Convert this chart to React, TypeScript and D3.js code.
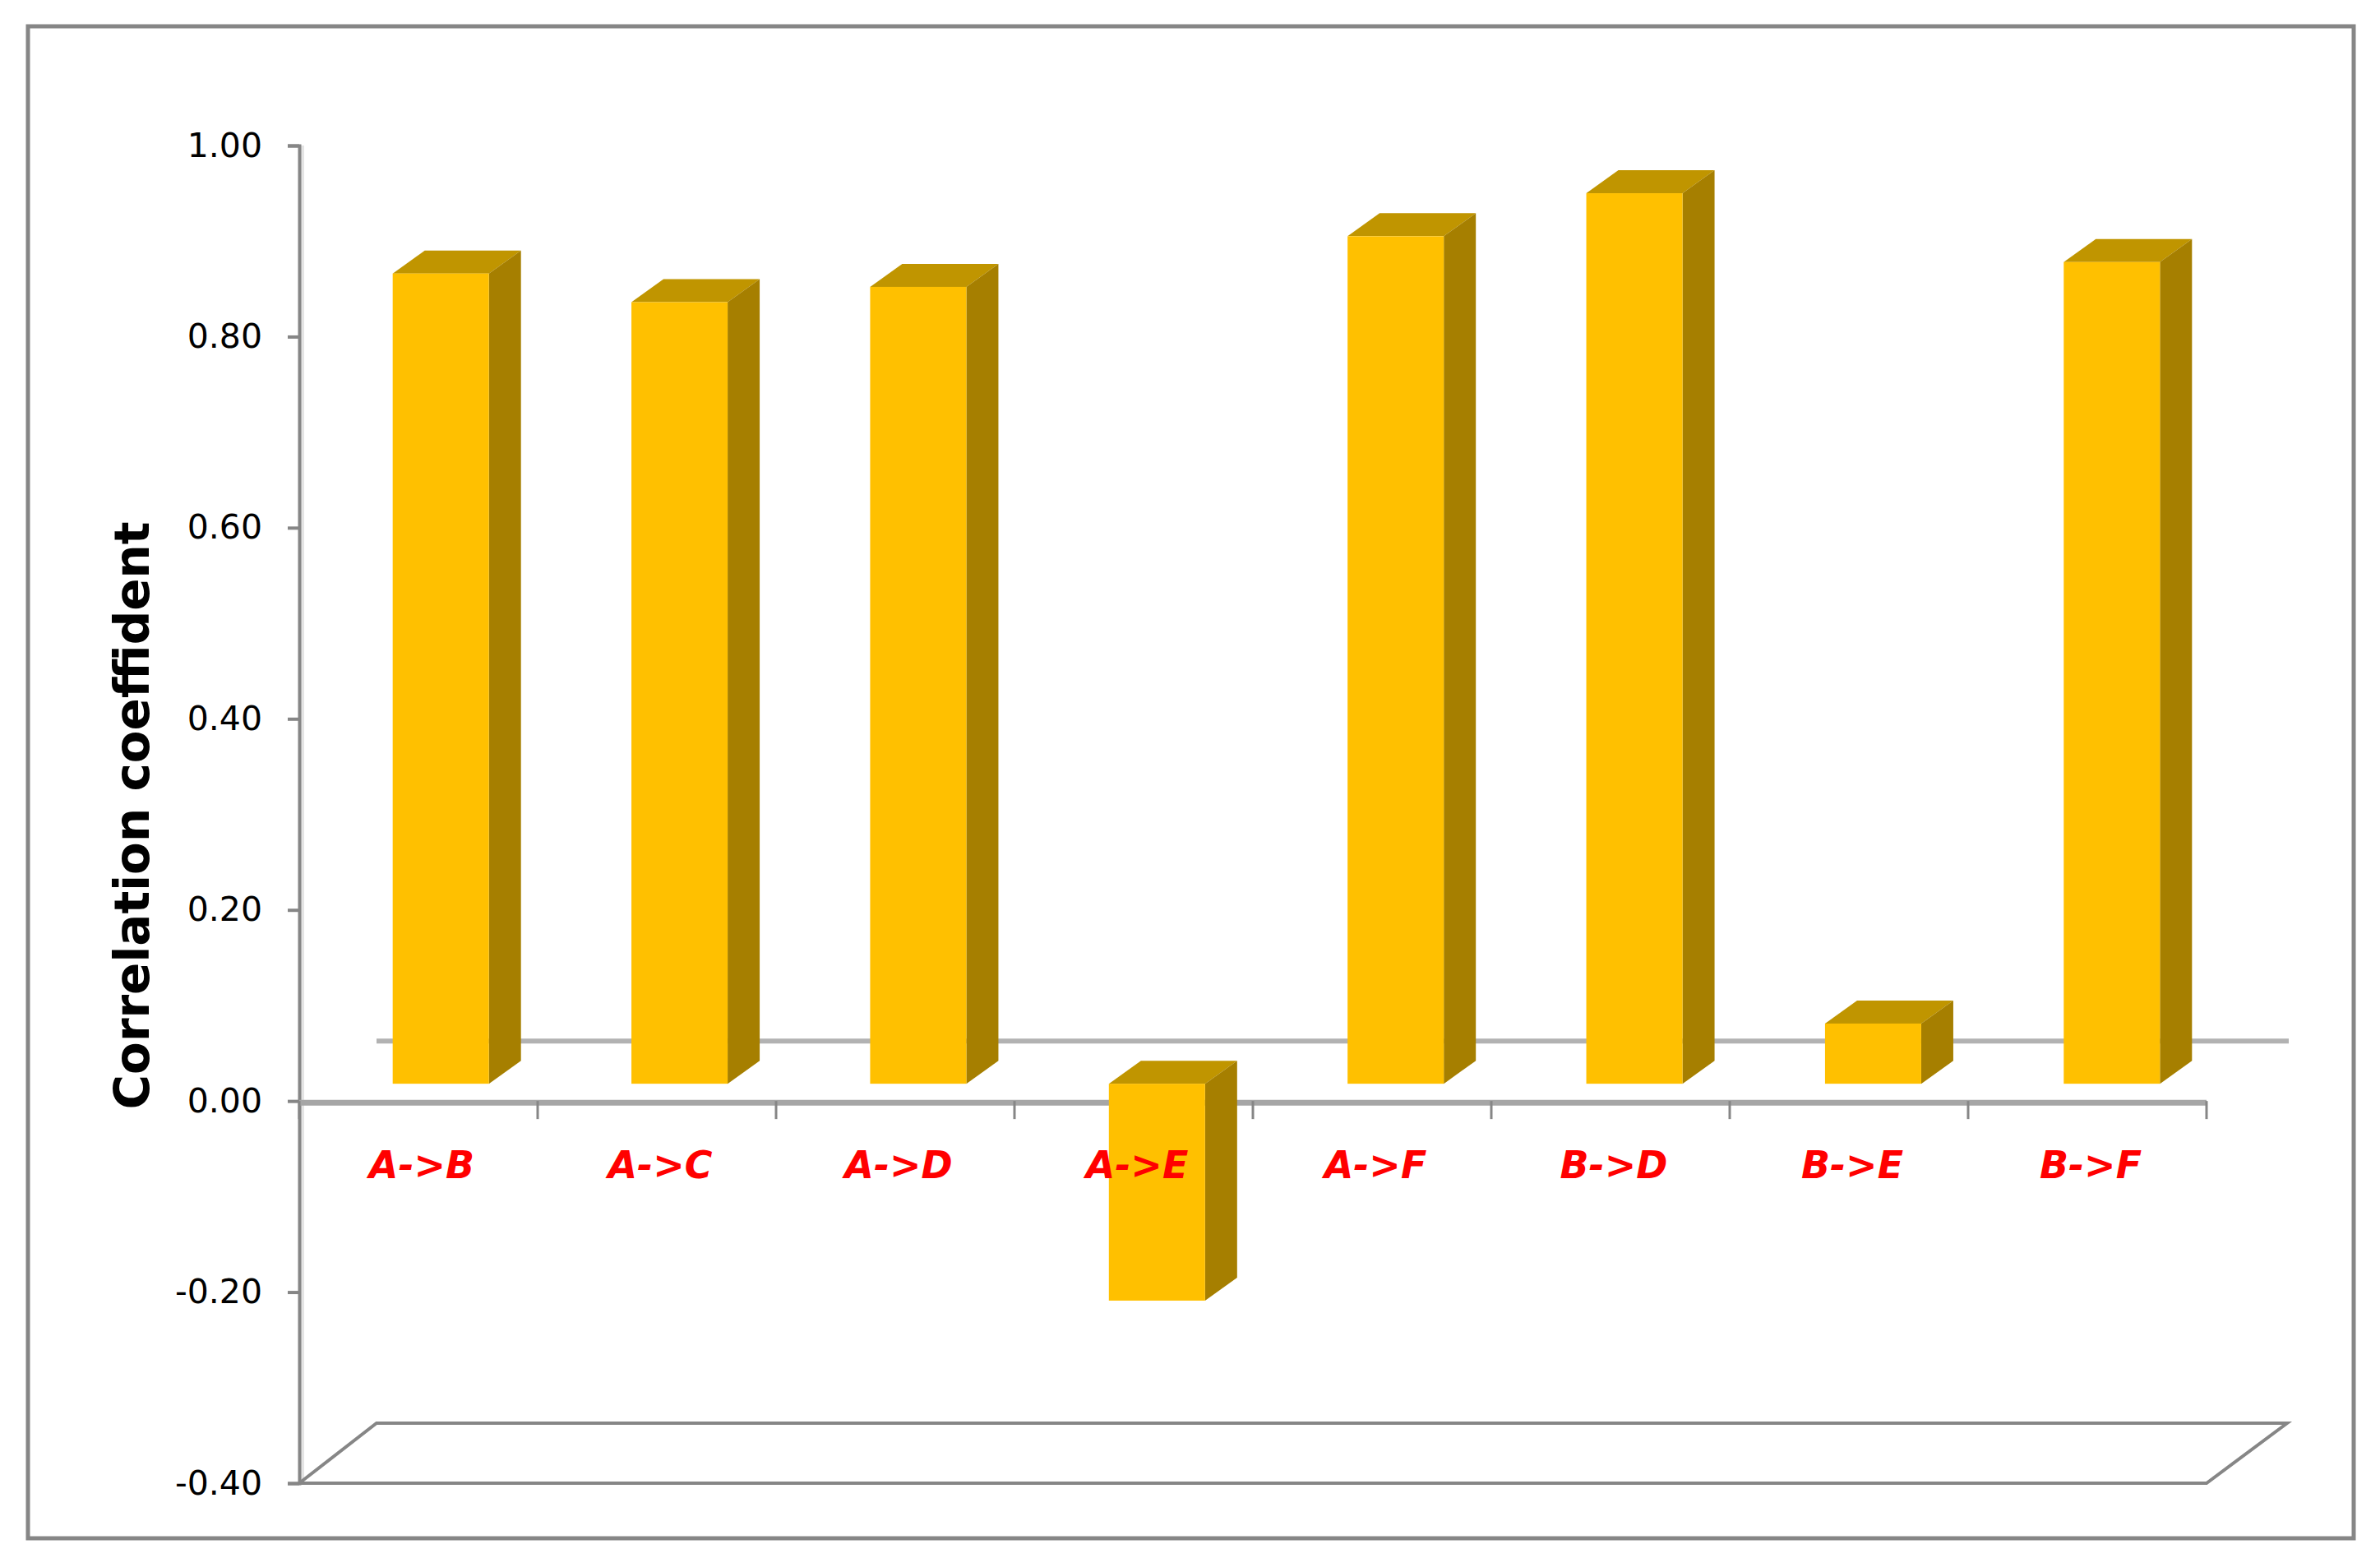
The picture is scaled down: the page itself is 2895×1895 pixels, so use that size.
import { useEffect, useRef } from 'react';
import * as d3 from 'd3';

const categories = ['A->B', 'A->C', 'A->D', 'A->E', 'A->F', 'B->D', 'B->E', 'B->F'];
const values = [0.848, 0.818, 0.834, -0.227, 0.887, 0.932, 0.063, 0.86];
const yTicks = [-0.4, -0.2, 0, 0.2, 0.4, 0.6, 0.8, 1];
const yTitle = 'Correlation coeffident';

const WIDTH = 2895;
const HEIGHT = 1895;

export default function App() {
	const ref = useRef<SVGSVGElement>(null);

	useEffect(() => {
		const svg = d3.select(ref.current);
		svg.selectAll('*').remove();

		const x = d3.scaleBand<string>().domain(categories).range([364, 2684]);
		// bars drift very slightly wider than the tick spacing in the source
		const xBars = d3.scaleBand<string>().domain(categories).range([364, 2687]);
		const y = d3.scaleLinear().domain([-0.4, 1]).range([1804, 177]);

		const wallDx = 94;
		const wallDy = -73;
		const barDx = 27;
		const barDy = -21;
		const depthX = 39;
		const depthY = 28;
		const barW = xBars.bandwidth() * 0.403;

		// outer frame
		svg
			.append('rect')
			.attr('x', 34)
			.attr('y', 32)
			.attr('width', 2829)
			.attr('height', 1839)
			.attr('fill', '#fff')
			.attr('stroke', '#868686')
			.attr('stroke-width', 5);

		// soft edge next to the y axis
		svg
			.append('line')
			.attr('x1', x.range()[0] + 4)
			.attr('x2', x.range()[0] + 4)
			.attr('y1', y(1))
			.attr('y2', y(-0.4))
			.attr('stroke', '#e4e4e4')
			.attr('stroke-width', 4);

		// floor of the chart at the axis minimum
		const floorY = y(-0.4);
		const floor = d3.line();
		svg
			.append('path')
			.attr(
				'd',
				floor([
					[x.range()[0], floorY],
					[x.range()[0] + wallDx, floorY + wallDy],
					[x.range()[1] + wallDx + 4, floorY + wallDy],
					[x.range()[1], floorY],
				]) + 'Z'
			)
			.attr('fill', 'none')
			.attr('stroke', '#868686')
			.attr('stroke-width', 4);

		// zero line on the back wall
		svg
			.append('line')
			.attr('x1', x.range()[0] + wallDx)
			.attr('x2', x.range()[1] + wallDx + 6)
			.attr('y1', y(0) + wallDy)
			.attr('y2', y(0) + wallDy)
			.attr('stroke', '#b2b2b2')
			.attr('stroke-width', 6);

		// y axis
		const yAxis = svg
			.append('g')
			.attr('transform', `translate(${x.range()[0]},0)`)
			.call(
				d3
					.axisLeft(y)
					.tickValues(yTicks)
					.tickFormat((d) => d3.format('.2f')(d as number).replace('−', '-'))
					.tickSize(14)
					.tickPadding(31)
			);
		yAxis.select('.domain').attr('stroke', '#868686').attr('stroke-width', 4);
		yAxis.selectAll('.tick line').attr('stroke', '#868686').attr('stroke-width', 4);
		yAxis
			.selectAll('.tick text')
			.attr('fill', '#000')
			.style('font-family', '"DejaVu Sans"')
			.style('font-size', '41px');

		// x axis sits at zero, ticks between categories
		const xAxis = svg.append('g').attr('transform', `translate(0,${y(0)})`);
		xAxis
			.append('line')
			.attr('x1', x.range()[0])
			.attr('x2', x.range()[1])
			.attr('y1', 2)
			.attr('y2', 2)
			.attr('stroke', '#a6a6a6')
			.attr('stroke-width', 7);
		xAxis
			.selectAll('line.sep')
			.data([...categories.map((c) => x(c) as number), x.range()[1]])
			.join('line')
			.attr('class', 'sep')
			.attr('x1', (d) => d)
			.attr('x2', (d) => d)
			.attr('y1', 0)
			.attr('y2', 22)
			.attr('stroke', '#868686')
			.attr('stroke-width', 3);

		// bars
		const bars = svg
			.append('g')
			.selectAll('g')
			.data(values)
			.join('g')
			.attr(
				'transform',
				(_, i) =>
					`translate(${(xBars(categories[i]) as number) + (xBars.bandwidth() - barW) / 2 + barDx},${barDy})`
			);

		bars
			.append('path')
			.attr('fill', '#c09500')
			.attr('d', (d) => {
				const t = y(Math.max(d, 0));
				return `M0,${t}L${depthX},${t - depthY}H${barW + depthX}L${barW},${t}Z`;
			});
		bars
			.append('path')
			.attr('fill', '#a67f00')
			.attr('d', (d) => {
				const t = y(Math.max(d, 0));
				const b = y(Math.min(d, 0));
				return `M${barW},${t}L${barW + depthX},${t - depthY}V${b - depthY}L${barW},${b}Z`;
			});
		bars
			.append('rect')
			.attr('fill', '#ffc000')
			.attr('width', barW)
			.attr('y', (d) => y(Math.max(d, 0)))
			.attr('height', (d) => Math.abs(y(d) - y(0)));

		// category labels
		svg
			.append('g')
			.selectAll('text')
			.data(categories)
			.join('text')
			.attr('x', (d) => (x(d) as number) + x.bandwidth() / 2 + 4)
			.attr('y', 1433)
			.attr('text-anchor', 'middle')
			.attr('fill', '#ff0000')
			.style('font-family', '"DejaVu Sans"')
			.style('font-size', '46px')
			.style('font-weight', 'bold')
			.style('font-style', 'italic')
			.text((d) => d);

		// y title
		svg
			.append('text')
			.attr('transform', 'translate(181,992) rotate(-90)')
			.attr('text-anchor', 'middle')
			.attr('fill', '#000')
			.style('font-family', '"DejaVu Sans"')
			.style('font-size', '58px')
			.style('font-weight', 'bold')
			.text(yTitle);
	}, []);

	return (
		<svg
			ref={ref}
			width={WIDTH}
			height={HEIGHT}
			style={{ position: 'absolute', left: 0, top: 0, background: '#fff' }}
		/>
	);
}
